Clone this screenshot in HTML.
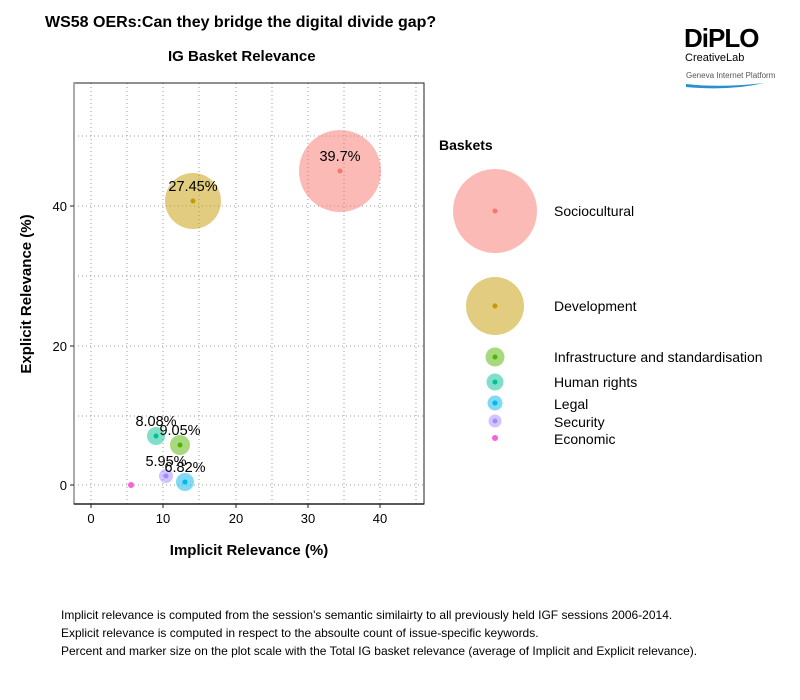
<!DOCTYPE html>
<html><head><meta charset="utf-8"><style>body{margin:0;background:#fff}svg{display:block}</style></head><body>
<svg width="800" height="700" xmlns="http://www.w3.org/2000/svg" font-family="Liberation Sans, sans-serif">
<rect width="800" height="700" fill="#fff"/>
<text x="45" y="27" font-size="16" font-weight="bold">WS58 OERs:Can they bridge the digital divide gap?</text>
<text x="168" y="61" font-size="15" font-weight="bold">IG Basket Relevance</text>
<!-- logo -->
<text x="684" y="47" font-size="26" font-weight="bold" letter-spacing="-1">DiPLO</text>
<text x="685" y="61" font-size="11">CreativeLab</text>
<text x="686" y="78" font-size="8" fill="#555">Geneva Internet Platform</text>
<path d="M686 84 Q720 88 764 83 Q730 91 686 87Z" fill="#2a8fd0"/>
<!-- grid -->
<g stroke="#999" stroke-dasharray="1,3" stroke-width="1">
<line x1="91" y1="83" x2="91" y2="504"/><line x1="127" y1="83" x2="127" y2="504"/><line x1="163" y1="83" x2="163" y2="504"/><line x1="199" y1="83" x2="199" y2="504"/><line x1="236" y1="83" x2="236" y2="504"/><line x1="272" y1="83" x2="272" y2="504"/><line x1="308" y1="83" x2="308" y2="504"/><line x1="344" y1="83" x2="344" y2="504"/><line x1="380" y1="83" x2="380" y2="504"/><line x1="416" y1="83" x2="416" y2="504"/>
<line x1="74" y1="485" x2="424" y2="485"/><line x1="74" y1="416" x2="424" y2="416"/><line x1="74" y1="346" x2="424" y2="346"/><line x1="74" y1="276" x2="424" y2="276"/><line x1="74" y1="206" x2="424" y2="206"/><line x1="74" y1="136" x2="424" y2="136"/>
</g>
<rect x="74" y="83" width="350" height="421" fill="none" stroke="#222" stroke-width="1"/>
<line x1="74" y1="83" x2="74" y2="504" stroke="#aaa" stroke-width="2"/>
<line x1="74" y1="504" x2="424" y2="504" stroke="#222" stroke-width="1.5"/>
<g stroke="#222"><line x1="91" y1="504" x2="91" y2="508"/><line x1="163" y1="504" x2="163" y2="508"/><line x1="236" y1="504" x2="236" y2="508"/><line x1="308" y1="504" x2="308" y2="508"/><line x1="380" y1="504" x2="380" y2="508"/>
<line x1="70" y1="485" x2="74" y2="485"/><line x1="70" y1="346" x2="74" y2="346"/><line x1="70" y1="206" x2="74" y2="206"/></g>
<g font-size="13" text-anchor="middle"><text x="91" y="523">0</text><text x="163" y="523">10</text><text x="236" y="523">20</text><text x="308" y="523">30</text><text x="380" y="523">40</text></g>
<g font-size="13" text-anchor="end"><text x="67" y="490">0</text><text x="67" y="351">20</text><text x="67" y="211">40</text></g>
<text x="249" y="555" font-size="15" font-weight="bold" text-anchor="middle">Implicit Relevance (%)</text>
<text transform="translate(31,294) rotate(-90)" font-size="15" font-weight="bold" text-anchor="middle">Explicit Relevance (%)</text>
<!-- points -->
<circle cx="340" cy="171" r="41" fill="#f8766d" fill-opacity="0.5"/><circle cx="340" cy="171" r="2.5" fill="#f8766d"/>
<circle cx="193" cy="201" r="28" fill="#c49a00" fill-opacity="0.5"/><circle cx="193" cy="201" r="2.5" fill="#c49a00"/>
<circle cx="180" cy="445" r="10" fill="#53b400" fill-opacity="0.5"/><circle cx="180" cy="445" r="2.5" fill="#53b400"/>
<circle cx="156" cy="436" r="9" fill="#00c094" fill-opacity="0.5"/><circle cx="156" cy="436" r="2.5" fill="#00c094"/>
<circle cx="185" cy="482" r="9" fill="#00b6eb" fill-opacity="0.5"/><circle cx="185" cy="482" r="2.5" fill="#00b6eb"/>
<circle cx="166" cy="476" r="7" fill="#a58aff" fill-opacity="0.5"/><circle cx="166" cy="476" r="2.5" fill="#a58aff"/>
<circle cx="131" cy="485" r="3" fill="#fb61d7"/>
<g font-size="14.5" text-anchor="middle">
<text x="340" y="161">39.7%</text><text x="193" y="191">27.45%</text><text x="156" y="426">8.08%</text><text x="180" y="435">9.05%</text><text x="166" y="466">5.95%</text><text x="185" y="472">6.82%</text>
</g>
<!-- legend -->
<text x="439" y="150" font-size="14" font-weight="bold">Baskets</text>
<circle cx="495" cy="211" r="42" fill="#f8766d" fill-opacity="0.5"/><circle cx="495" cy="211" r="2.5" fill="#f8766d"/>
<circle cx="495" cy="306" r="29" fill="#c49a00" fill-opacity="0.5"/><circle cx="495" cy="306" r="2.5" fill="#c49a00"/>
<circle cx="495" cy="357" r="9.5" fill="#53b400" fill-opacity="0.5"/><circle cx="495" cy="357" r="2.5" fill="#53b400"/>
<circle cx="495" cy="382" r="8.5" fill="#00c094" fill-opacity="0.5"/><circle cx="495" cy="382" r="2.5" fill="#00c094"/>
<circle cx="495" cy="403" r="7.5" fill="#00b6eb" fill-opacity="0.5"/><circle cx="495" cy="403" r="2.5" fill="#00b6eb"/>
<circle cx="495" cy="421" r="6.5" fill="#a58aff" fill-opacity="0.5"/><circle cx="495" cy="421" r="2.5" fill="#a58aff"/>
<circle cx="495" cy="438" r="3" fill="#fb61d7"/>
<g font-size="14"><text x="554" y="216">Sociocultural</text><text x="554" y="311">Development</text><text x="554" y="362">Infrastructure and standardisation</text><text x="554" y="387">Human rights</text><text x="554" y="409">Legal</text><text x="554" y="427">Security</text><text x="554" y="444">Economic</text></g>
<g font-size="12"><text x="61" y="619">Implicit relevance is computed from the session's semantic similairty to all previously held IGF sessions 2006-2014.</text>
<text x="61" y="637">Explicit relevance is computed in respect to the absoulte count of issue-specific keywords.</text>
<text x="61" y="655">Percent and marker size on the plot scale with the Total IG basket relevance (average of Implicit and Explicit relevance).</text></g>
</svg>
</body></html>
